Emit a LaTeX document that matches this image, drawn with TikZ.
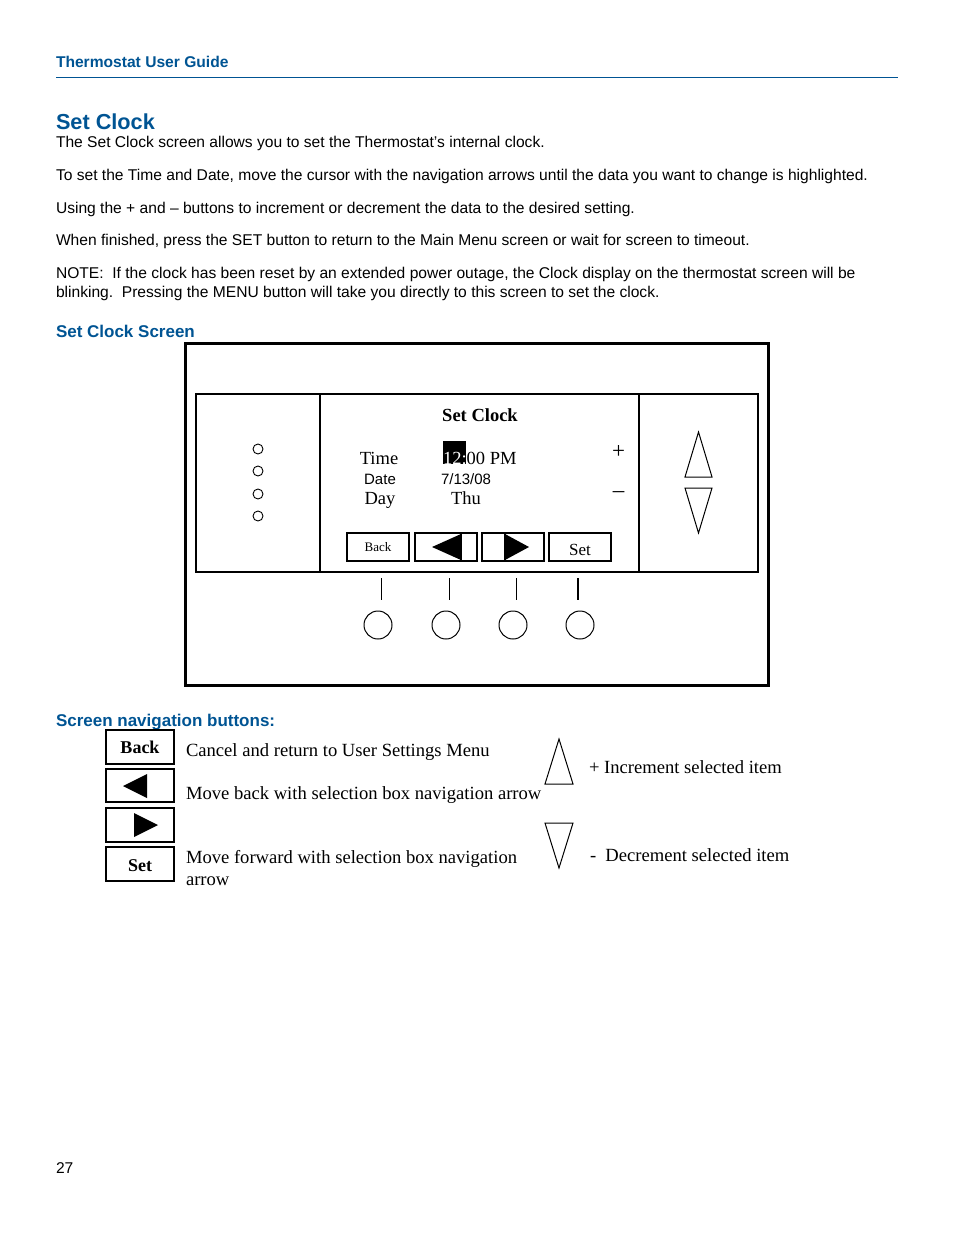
\documentclass[tikz,border=0pt]{standalone}
\usepackage{fontspec}
\setmainfont{Liberation Serif}
\setsansfont{Liberation Sans}
\definecolor{guideblue}{RGB}{0,84,147}

\begin{document}
\begin{tikzpicture}[x=1pt,y=-1pt,line join=miter,every node/.style={inner sep=0pt,outer sep=0pt},
  body/.style={anchor=base west,font=\sffamily\fontsize{15.6}{18}\selectfont},
  heading/.style={anchor=base west,text=guideblue,font=\sffamily\bfseries\fontsize{17}{20}\selectfont},
  legend/.style={anchor=base west,font=\fontsize{18.6}{22}\selectfont},
  scr/.style={anchor=base,font=\fontsize{18.5}{22}\selectfont},
  scrsans/.style={anchor=base,font=\sffamily\fontsize{15}{18}\selectfont},
  keybox/.style={line width=1.4pt},
  softkey/.style={line width=1.6pt}]
  \useasboundingbox (0,0) rectangle (954,1235);
  % page header
  \node[anchor=base west,text=guideblue,font=\sffamily\bfseries\fontsize{15.6}{18}\selectfont] (guide) at (56,67) {Thermostat User Guide};
  \draw[guideblue,line width=1pt] (56,77) -- (898,77);
  \node[anchor=base west,text=guideblue,font=\sffamily\bfseries\fontsize{21.7}{26}\selectfont] (title) at (56,129) {Set Clock};
  \node[body] (p1) at (56,147) {The Set Clock screen allows you to set the Thermostat’s internal clock.};
  \node[body] (p2) at (56,180) {To set the Time and Date, move the cursor with the navigation arrows until the data you want to change is highlighted.};
  \node[body] (p3) at (56,213) {Using the + and – buttons to increment or decrement the data to the desired setting.};
  \node[body] (p4) at (56,245) {When finished, press the SET button to return to the Main Menu screen or wait for screen to timeout.};
  \node[body] (p5) at (56,278) {NOTE:\ \ If the clock has been reset by an extended power outage, the Clock display on the thermostat screen will be};
  \node[body] (p6) at (56,297) {blinking.\ \ Pressing the MENU button will take you directly to this screen to set the clock.};
  \node[heading] (screenhead) at (56,337) {Set Clock Screen};

  % thermostat front
  \draw[line width=3pt] (185,343) rectangle (768,685);
  \draw[line width=2pt] (196,394) rectangle (758,572);
  \draw[line width=2pt] (320,394) -- (320,572);
  \draw[line width=2pt] (639,394) -- (639,572);
  \draw[line width=0.9pt] (258,449) circle (5);
  \draw[line width=0.9pt] (258,471) circle (5);
  \draw[line width=0.9pt] (258,494) circle (5);
  \draw[line width=0.9pt] (258,516) circle (5);

  % display
  \node[scr,font=\bfseries\fontsize{18.5}{22}\selectfont] (scrtitle) at (480,421) {Set Clock};
  \node[scr] (timelbl) at (379,464) {Time};
  \node[scrsans] (datelbl) at (380,484) {Date};
  \node[scr] (daylbl) at (380,504) {Day};
  \fill (443,441) rectangle (466,464);
  \node[scr,anchor=base west] (timeval) at (443,464) {\textcolor{white}{12:}00 PM};
  \node[scrsans,anchor=base west] (dateval) at (441,484) {7/13/08};
  \node[scr] (dayval) at (466,504) {Thu};
  \node[anchor=center,font=\fontsize{23}{26}\selectfont] (plus) at (618.5,452) {+};
  \node[anchor=center,font=\fontsize{23}{26}\selectfont] (minus) at (618.5,495) {–};

  % soft keys on the display
  \draw[softkey] (347,533) rectangle (409,561);
  \node[anchor=base,font=\fontsize{13}{15}\selectfont] (backkey) at (378,551) {Back};
  \draw[softkey] (415,533) rectangle (477,561);
  \fill (432,547) -- (461,534) -- (461,560) -- cycle;
  \draw[line width=1.5pt] (461,533) -- (461,561);
  \draw[softkey] (482,533) rectangle (544,561);
  \fill (529,547) -- (505,534) -- (505,560) -- cycle;
  \draw[line width=1.5pt] (505,533) -- (505,561);
  \draw[softkey] (549,533) rectangle (611,561);
  \node[anchor=base,font=\fontsize{17}{20}\selectfont] (setkey) at (580,555) {Set};

  % up and down keys
  \draw[line width=1pt] (685,477) -- (712,477) -- (698.5,432) -- cycle;
  \draw[line width=1pt] (685,488) -- (712,488) -- (698.5,533) -- cycle;

  % push buttons under the display
  \draw[line width=1pt] (381,578) -- (381,600);
  \draw[line width=1pt] (449,578) -- (449,600);
  \draw[line width=1pt] (516,578) -- (516,600);
  \draw[line width=2pt] (578,578) -- (578,600);
  \draw[line width=1pt] (378,625) circle (14);
  \draw[line width=1pt] (446,625) circle (14);
  \draw[line width=1pt] (513,625) circle (14);
  \draw[line width=1pt] (580,625) circle (14);

  % legend
  \node[heading] (navhead) at (56,726) {Screen navigation buttons:};
  \draw[keybox] (106,730) rectangle (174,764);
  \node[anchor=base,font=\bfseries\fontsize{18}{22}\selectfont] (backbtn) at (140,753) {Back};
  \draw[keybox] (106,769) rectangle (174,802);
  \fill (123,786) -- (147,774) -- (147,798) -- cycle;
  \draw[keybox] (106,808) rectangle (174,842);
  \fill (158,825) -- (134,813) -- (134,837) -- cycle;
  \draw[keybox] (106,847) rectangle (174,881);
  \node[anchor=base,font=\bfseries\fontsize{18}{22}\selectfont] (setbtn) at (140,871) {Set};
  \node[legend] (backtxt) at (186,756) {Cancel and return to User Settings Menu};
  \node[legend] (lefttxt) at (186,799) {Move back with selection box navigation arrow};
  \node[legend] (righttxt) at (186,863) {Move forward with selection box navigation};
  \node[legend] (righttxt2) at (186,885) {arrow};
  \draw[line width=1pt] (545,784) -- (573,784) -- (559,739) -- cycle;
  \draw[line width=1pt] (545,823) -- (573,823) -- (559,868) -- cycle;
  \node[legend] (inctxt) at (589,773) {+ Increment selected item};
  \node[legend] (dectxt) at (590,861) {-\ \ Decrement selected item};

  % page number
  \node[body] (pagenum) at (56,1173) {27};
\end{tikzpicture}
\end{document}
